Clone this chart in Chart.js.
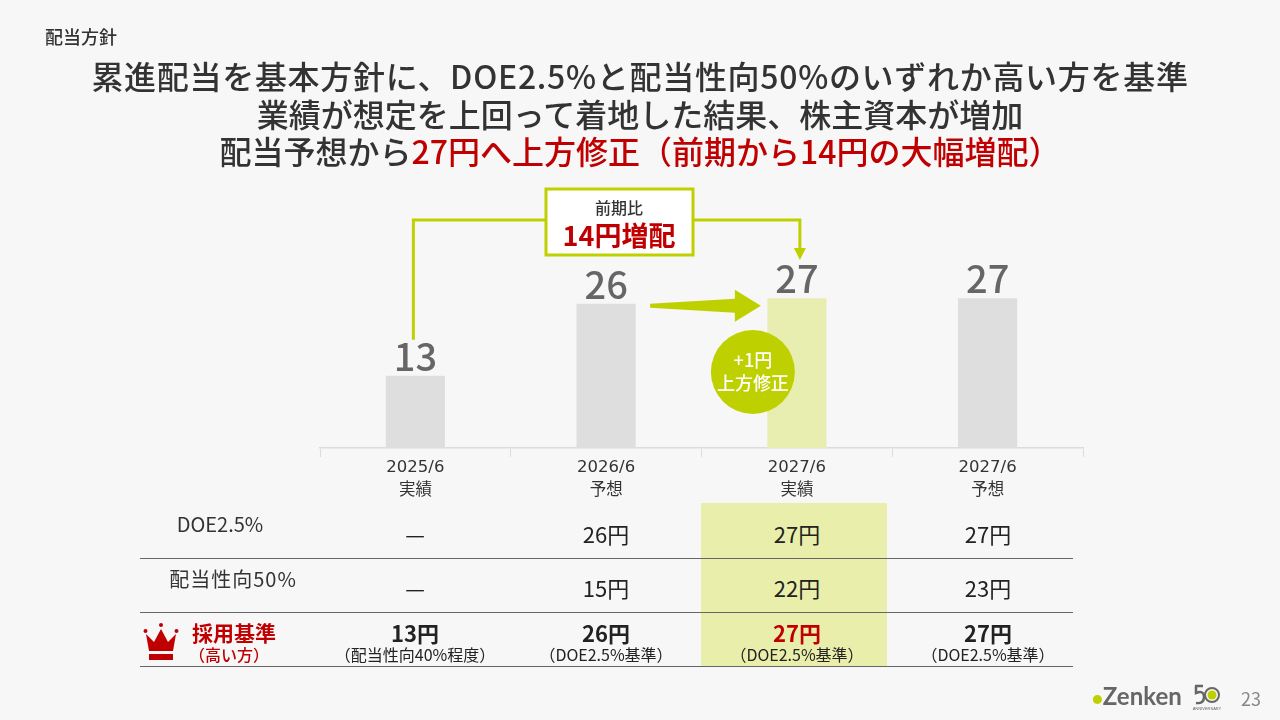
<!DOCTYPE html>
<html lang="ja">
<head>
<meta charset="utf-8">
<script src="https://cdn.jsdelivr.net/npm/chart.js@4/dist/chart.umd.min.js"></script>
<style>
  body { margin: 0; background: #f7f7f7; font-family: "Noto Sans CJK JP", "Noto Sans", sans-serif; color: #333; }
  #page { position: relative; width: 1280px; height: 720px; overflow: hidden; }
  #chart { position: absolute; left: 0; top: 0; }
  .abs { position: absolute; white-space: nowrap; }
  .ctr { transform: translate(-50%, -50%); }
  .red { color: #c00000; }
  .head { font-size: 32px; font-weight: 500; left: 640px; color: #333; }
  .hline { position: absolute; left: 140px; width: 933px; height: 0; border-top: 1.5px solid #666; }
</style>
</head>
<body>
<div id="page">
  <canvas id="chart" width="1280" height="720"></canvas>
  <div id="overlay"></div>
</div>
<script>
/* =========================
   DATA
========================= */

const periods = [["2025/6", "実績"], ["2026/6", "予想"], ["2027/6", "実績"], ["2027/6", "予想"]];
const dividends = [13, 26, 27, 27];
const highlightIndex = 2;

const rowLabels = ["DOE2.5%", "配当性向50%", "採用基準"];
const doeValues = ["—", "26円", "27円", "27円"];
const payoutValues = ["—", "15円", "22円", "23円"];
const adoptedValues = ["13円", "26円", "27円", "27円"];
const adoptedNotes = ["（配当性向40%程度）", "（DOE2.5%基準）", "（DOE2.5%基準）", "（DOE2.5%基準）"];

const headLines = [
    "累進配当を基本方針に、DOE2.5%と配当性向50%のいずれか高い方を基準",
    "業績が想定を上回って着地した結果、株主資本が増加",
    "配当予想から<span class=\"red\">27円へ上方修正（前期から14円の大幅増配）</span>"
];

const GREEN = "#bfd000";
const RED = "#c00000";

/* =========================
   ANNOTATIONS PLUGIN
========================= */

const annotations = {
    id: "annotations",
    afterDatasetsDraw(chart) {
        const ctx = chart.ctx;
        const x = chart.scales.x, y = chart.scales.y;
        ctx.save();

        // value labels
        ctx.fillStyle = "#666";
        ctx.font = "500 38px 'Noto Sans CJK JP'";
        ctx.textAlign = "center";
        ctx.textBaseline = "alphabetic";
        dividends.forEach((v, i) => {
            ctx.fillText(String(v), x.getPixelForValue(i), y.getPixelForValue(v) - 5);
        });

        // bracket 2025 -> 2027 actual
        const x0 = x.getPixelForValue(0) - 2;
        const x2 = x.getPixelForValue(highlightIndex) + 3;
        const top = 220;
        ctx.strokeStyle = GREEN;
        ctx.lineWidth = 3;
        ctx.beginPath();
        ctx.moveTo(x0, y.getPixelForValue(dividends[0]) - 36);
        ctx.lineTo(x0, top);
        ctx.lineTo(x2, top);
        ctx.lineTo(x2, 250);
        ctx.stroke();
        ctx.fillStyle = GREEN;
        ctx.beginPath();
        ctx.moveTo(x2 - 6, 248);
        ctx.lineTo(x2 + 6, 248);
        ctx.lineTo(x2, 260);
        ctx.closePath();
        ctx.fill();

        // box
        ctx.fillStyle = "#fff";
        ctx.fillRect(546, 189, 147, 66);
        ctx.strokeRect(546, 189, 147, 66);
        ctx.fillStyle = "#333";
        ctx.font = "500 16px 'Noto Sans CJK JP'";
        ctx.textBaseline = "middle";
        ctx.fillText("前期比", 619, 208);
        ctx.fillStyle = RED;
        ctx.font = "bold 27px 'Noto Sans CJK JP'";
        ctx.fillText("14円増配", 619, 236);

        // big arrow 2026 -> 2027
        const ay = y.getPixelForValue(dividends[1]) + 2;
        const ax0 = x.getPixelForValue(1) + 44;
        const ax1 = x.getPixelForValue(highlightIndex) - 36;
        ctx.fillStyle = GREEN;
        ctx.beginPath();
        ctx.moveTo(ax0, ay - 2);
        ctx.lineTo(ax1 - 26, ay - 7);
        ctx.lineTo(ax1 - 26, ay - 16);
        ctx.lineTo(ax1, ay);
        ctx.lineTo(ax1 - 26, ay + 16);
        ctx.lineTo(ax1 - 26, ay + 7);
        ctx.lineTo(ax0, ay + 2);
        ctx.closePath();
        ctx.fill();

        // circle
        const cx = x.getPixelForValue(highlightIndex) - 44;
        const cy = 372;
        ctx.beginPath();
        ctx.arc(cx, cy, 42, 0, Math.PI * 2);
        ctx.fill();
        ctx.fillStyle = "#fff";
        ctx.font = "500 18px 'Noto Sans CJK JP'";
        ctx.fillText("+1円", cx, cy - 12);
        ctx.fillText("上方修正", cx, cy + 11);

        ctx.restore();
    }
};

/* =========================
   CHART
========================= */

new Chart(document.getElementById("chart"), {
    type: "bar",
    data: {
        labels: periods,
        datasets: [{
            data: dividends,
            backgroundColor: dividends.map((v, i) => i === highlightIndex ? "#e8eeb0" : "#dedede"),
            categoryPercentage: 1,
            barPercentage: 0.31
        }]
    },
    options: {
        responsive: false,
        animation: false,
        layout: { padding: { left: 320, right: 197, top: 226, bottom: 0 } },
        plugins: { legend: { display: false }, tooltip: { enabled: false } },
        scales: {
            y: { display: false, min: 0, max: 40 },
            x: {
                afterFit(scale) { scale.height = 272; },
                border: { color: "#dcdcdc", width: 1.5 },
                grid: { drawOnChartArea: false, color: "#dcdcdc", tickLength: 9, offset: true },
                ticks: {
                    color: "#333",
                    padding: 0,
                    font: { family: "'DejaVu Sans', 'Noto Sans CJK JP'", size: 16.5, lineHeight: 1.35 }
                }
            }
        }
    },
    plugins: [annotations]
});

/* =========================
   TEXT + TABLE OVERLAY
========================= */

const centers = [415, 606, 797, 988];
let html = "";

html += `<div class="abs ctr" style="left:81px;top:36px;font-size:18px;font-weight:500;">配当方針</div>`;
[75, 113, 150].forEach((t, i) => {
    const ls = i === 0 ? "letter-spacing:0.7px;" : "";
    html += `<div class="abs ctr head" style="top:${t}px;${ls}">${headLines[i]}</div>`;
});

// highlight column
html += `<div class="abs" style="left:701px;top:503px;width:186px;height:163px;background:#e9efab;"></div>`;

// row labels
html += `<div class="abs ctr" style="left:220px;top:523px;font-size:20px;">${rowLabels[0]}</div>`;
html += `<div class="abs ctr" style="left:233px;top:578px;font-size:20px;letter-spacing:1px;">${rowLabels[1]}</div>`;
html += `<div class="abs ctr red" style="left:234px;top:632px;font-size:21px;font-weight:bold;">${rowLabels[2]}</div>`;
html += `<div class="abs ctr red" style="left:229px;top:654px;font-size:16px;font-weight:500;">（高い方）</div>`;

// crown
html += `<svg class="abs" style="left:143px;top:622px;" width="36" height="40" viewBox="0 0 36 40">
  <circle cx="18" cy="3" r="2" fill="${RED}"/><circle cx="2.5" cy="9" r="2" fill="${RED}"/><circle cx="33.5" cy="9" r="2" fill="${RED}"/>
  <polygon points="3,12 11,20 18,7 25,20 33,12 30,29 6,29" fill="${RED}"/>
  <rect x="6" y="32" width="24" height="6" fill="${RED}"/>
</svg>`;

centers.forEach((cx, i) => {
    html += `<div class="abs ctr" style="left:${cx}px;top:533px;font-size:22px;color:#222;">${doeValues[i]}</div>`;
    html += `<div class="abs ctr" style="left:${cx}px;top:587px;font-size:22px;color:#222;">${payoutValues[i]}</div>`;
    html += `<div class="abs ctr" style="left:${cx}px;top:632px;font-size:22px;font-weight:bold;color:${i === highlightIndex ? RED : "#222"};">${adoptedValues[i]}</div>`;
    html += `<div class="abs ctr" style="left:${cx}px;top:654px;font-size:16px;color:#222;">${adoptedNotes[i]}</div>`;
});

[558, 612, 666].forEach(t => {
    html += `<div class="hline" style="top:${t}px;"></div>`;
});

// footer
html += `<div class="abs" style="left:1092px;top:681px;font-size:24px;font-weight:bold;color:#666;font-family:Lato, sans-serif;"><span style="color:${GREEN};font-size:18px;">●</span>Zenken</div>`;
html += `<svg class="abs" style="left:1192px;top:684px;" width="30" height="28" viewBox="0 0 30 28">
  <path d="M3 2 H11 M4 2 V9 Q12 6 12 13 Q12 20 4 19" stroke="#666" stroke-width="2.5" fill="none"/>
  <circle cx="20" cy="11" r="7" fill="none" stroke="#666" stroke-width="2"/><circle cx="20" cy="11" r="4.5" fill="${GREEN}"/>
  <text x="15" y="26" font-size="4" fill="#666" text-anchor="middle" font-family="sans-serif">ANNIVERSARY</text>
</svg>`;
html += `<div class="abs" style="left:1241px;top:685px;font-size:18px;color:#888;">23</div>`;

document.getElementById("overlay").innerHTML = html;
</script>
</body>
</html>
